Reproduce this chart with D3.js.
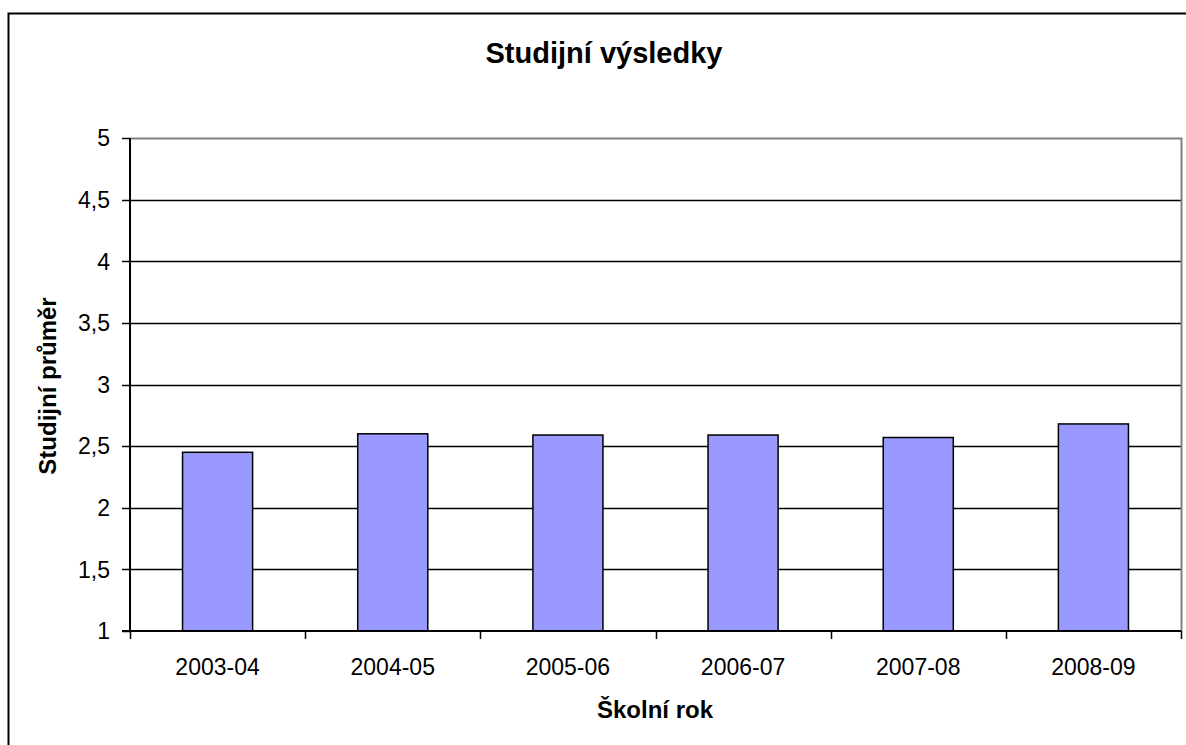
<!DOCTYPE html>
<html lang="cs">
<head>
  <meta charset="UTF-8" />
  <title>Studijní výsledky</title>
  <script src="https://d3js.org/d3.v7.min.js"></script>
  <style>
    body { margin: 0; background: #fff; font-family: 'Liberation Sans', Arial, sans-serif; }
    svg { display: block; }
  </style>
</head>
<body>
<div id="chart"></div>
<script>
// data
const years = ["2003-04", "2004-05", "2005-06", "2006-07", "2007-08", "2008-09"];
const averages = [2.45, 2.60, 2.59, 2.59, 2.57, 2.68];
const yTicks = [1, 1.5, 2, 2.5, 3, 3.5, 4, 4.5, 5];

const W = 1186, H = 745;
const plot = { left: 130, right: 1181, top: 138, bottom: 631 };

const svg = d3.select("#chart").append("svg")
  .attr("width", W).attr("height", H);

// chart area border (runs off the right and bottom edge)
svg.append("rect")
  .attr("x", 8.5).attr("y", 13.5)
  .attr("width", 1200).attr("height", 800)
  .attr("fill", "#fff").attr("stroke", "#000").attr("stroke-width", 2);

const x = d3.scaleBand().domain(years).range([plot.left, plot.right]);
const y = d3.scaleLinear().domain([1, 5]).range([plot.bottom, plot.top]);

// gridlines
svg.append("g").selectAll("line")
  .data(yTicks.filter(d => d > 1 && d < 5))
  .enter().append("line")
  .attr("x1", plot.left).attr("x2", plot.right)
  .attr("y1", d => Math.round(y(d)) + 0.5).attr("y2", d => Math.round(y(d)) + 0.5)
  .attr("stroke", "#000").attr("stroke-width", 1.5);

// plot area border (gray)
svg.append("path")
  .attr("d", `M${plot.left},${plot.top + 0.5}H${plot.right + 0.5}V${plot.bottom}`)
  .attr("fill", "none").attr("stroke", "#808080").attr("stroke-width", 2);

// bars, gap width 150%
const barW = x.bandwidth() / 2.5;
svg.append("g").selectAll("rect")
  .data(years)
  .enter().append("rect")
  .attr("x", d => x(d) + (x.bandwidth() - barW) / 2)
  .attr("y", (d, i) => y(averages[i]))
  .attr("width", barW)
  .attr("height", (d, i) => plot.bottom - y(averages[i]))
  .attr("fill", "#9999ff")
  .attr("stroke", "#000").attr("stroke-width", 1.5);

// y axis
svg.append("line")
  .attr("x1", plot.left).attr("x2", plot.left)
  .attr("y1", plot.top).attr("y2", plot.bottom)
  .attr("stroke", "#000").attr("stroke-width", 2);
svg.append("g").selectAll("line")
  .data(yTicks).enter().append("line")
  .attr("x1", plot.left - 8).attr("x2", plot.left)
  .attr("y1", d => Math.round(y(d)) + 0.5).attr("y2", d => Math.round(y(d)) + 0.5)
  .attr("stroke", "#000").attr("stroke-width", 1.5);
svg.append("g").selectAll("text")
  .data(yTicks).enter().append("text")
  .attr("x", plot.left - 20)
  .attr("y", d => y(d))
  .attr("dy", "0.36em")
  .attr("text-anchor", "end")
  .style("font-size", "23px")
  .text(d => String(d).replace(".", ","));

// x axis
svg.append("line")
  .attr("x1", plot.left - 8).attr("x2", plot.right)
  .attr("y1", plot.bottom).attr("y2", plot.bottom)
  .attr("stroke", "#000").attr("stroke-width", 2);
const bounds = years.map(d => x(d)).concat([plot.right]);
svg.append("g").selectAll("line")
  .data(bounds).enter().append("line")
  .attr("x1", d => Math.round(d) + 0.5).attr("x2", d => Math.round(d) + 0.5)
  .attr("y1", plot.bottom).attr("y2", plot.bottom + 8)
  .attr("stroke", "#000").attr("stroke-width", 1.5);
svg.append("g").selectAll("text")
  .data(years).enter().append("text")
  .attr("x", d => x(d) + x.bandwidth() / 2)
  .attr("y", 675)
  .attr("text-anchor", "middle")
  .style("font-size", "23px")
  .text(d => d);

// titles
svg.append("text")
  .attr("x", 604).attr("y", 63)
  .attr("text-anchor", "middle")
  .style("font-size", "29px").style("font-weight", "bold")
  .text("Studijní výsledky");

svg.append("text")
  .attr("x", 655).attr("y", 718)
  .attr("text-anchor", "middle")
  .style("font-size", "24px").style("font-weight", "bold")
  .text("Školní rok");

svg.append("text")
  .attr("transform", "translate(56,386) rotate(-90)")
  .attr("text-anchor", "middle")
  .style("font-size", "24px").style("font-weight", "bold")
  .text("Studijní průměr");
</script>
</body>
</html>
